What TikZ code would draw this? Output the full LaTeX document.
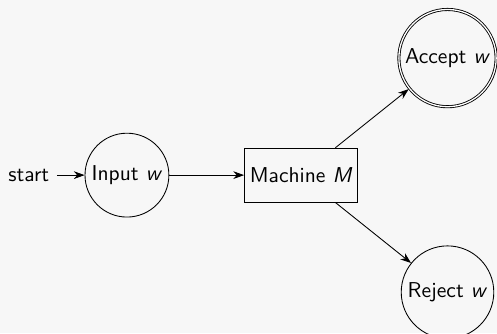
\documentclass[tikz,border=0pt]{standalone}
\usepackage{tikz}
\usetikzlibrary{arrows.meta,automata,calc,positioning}
\definecolor{bgcolor}{RGB}{247,247,247}
\newdimen\gapdim
\gapdim=81pt
\tikzstyle{place}=[
  state,
  draw=black,
  font={\sffamily},
  inner sep=2pt,
]
\tikzstyle{machinebox}=[
  draw=black,
  font={\sffamily},
  inner sep=2.5pt,
  minimum height=25pt,
  rectangle,
]
\tikzstyle{arrow}=[
  ->,
  draw=black,
]
\tikzset{
  node distance=\gapdim,
  >={Stealth[length=5pt,width=3.6pt,inset=1.6pt]},
  initial text={\sffamily start},
}

\begin{document}
\begin{tikzpicture}
     \useasboundingbox [fill=bgcolor] (0,0) rectangle (231pt,-155pt);
     \node (input) [place, initial] at (59pt,-81.4pt) {Input \textit{w}};
     \node (machine) [machinebox, right of=input] {Machine \textit{M}};
     %%
     \node (accept) [place, accepting] at ($(machine)+(68pt,54.4pt)$) {Accept \textit{w}};
     \node (reject) [place] at ($(machine)+(68pt,-54.4pt)$) {Reject \textit{w}};
     %%
     \draw [arrow] (input) -- (machine);
     \draw [arrow] (machine) -- (accept);
     \draw [arrow] (machine) -- (reject);
   \end{tikzpicture}
\end{document}
